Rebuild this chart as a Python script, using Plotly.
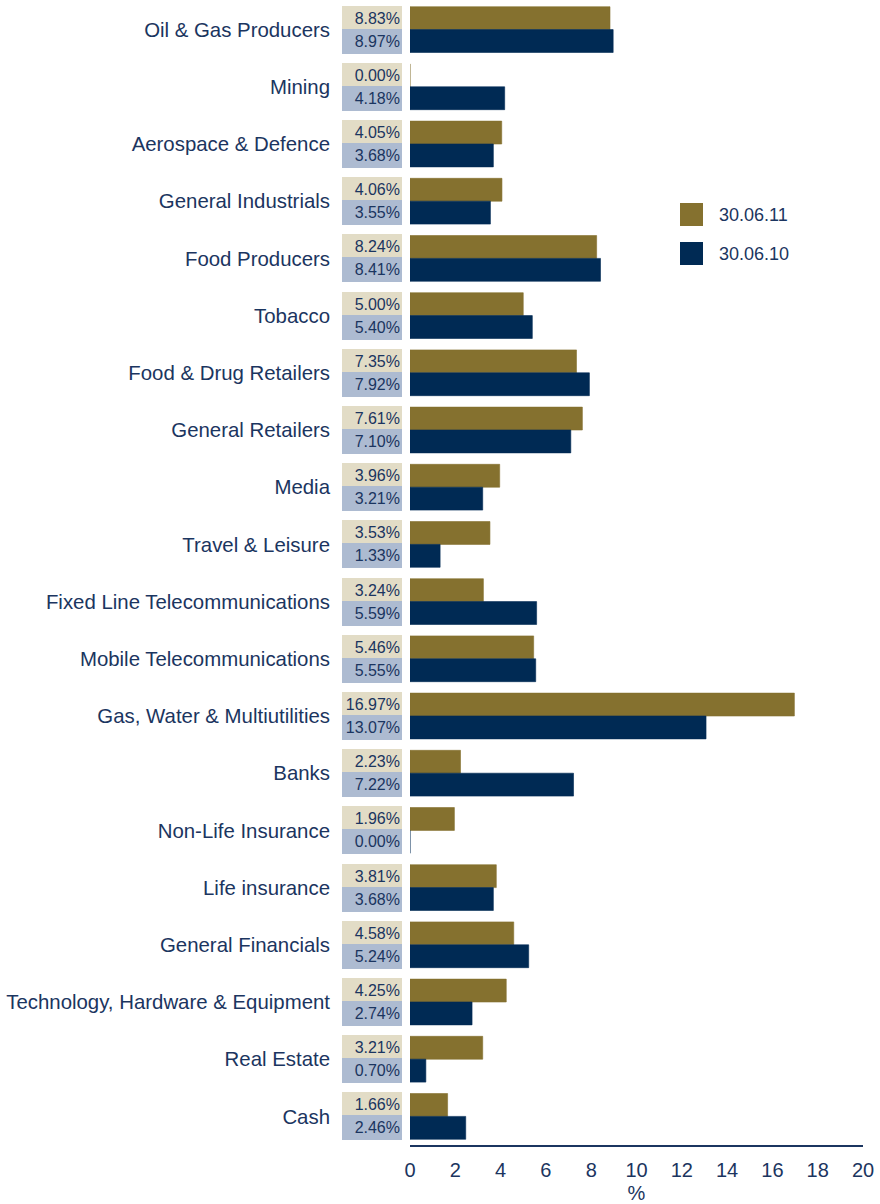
import plotly.graph_objects as go

categories = [
    "Oil & Gas Producers", "Mining", "Aerospace & Defence", "General Industrials",
    "Food Producers", "Tobacco", "Food & Drug Retailers", "General Retailers",
    "Media", "Travel & Leisure", "Fixed Line Telecommunications",
    "Mobile Telecommunications", "Gas, Water & Multiutilities", "Banks",
    "Non-Life Insurance", "Life insurance", "General Financials",
    "Technology, Hardware & Equipment", "Real Estate", "Cash",
]
values_2011 = [8.83, 0.00, 4.05, 4.06, 8.24, 5.00, 7.35, 7.61, 3.96, 3.53,
               3.24, 5.46, 16.97, 2.23, 1.96, 3.81, 4.58, 4.25, 3.21, 1.66]
values_2010 = [8.97, 4.18, 3.68, 3.55, 8.41, 5.40, 7.92, 7.10, 3.21, 1.33,
               5.59, 5.55, 13.07, 7.22, 0.00, 3.68, 5.24, 2.74, 0.70, 2.46]
series_names = ["30.06.11", "30.06.10"]
x_ticks = [0, 2, 4, 6, 8, 10, 12, 14, 16, 18, 20]

C_2011 = "#85712f"
C_2010 = "#002a54"
BOX_2011 = "#e2dcc6"
BOX_2010 = "#adbbd1"
TXT = "#1b3560"
FONT = "Liberation Sans, Arial, sans-serif"

W, H = 880, 1204
L, R, T, B = 410, 17, 1, 59
plot_w = W - L - R
plot_h = H - T - B
n = len(categories)
step = plot_h / n
bargap = 0.2
bar_h = step * (1 - bargap) / 2


def px_x(px):
    return (px - L) / plot_w


def px_y(py):
    return 1 - (py - T) / plot_h


fig = go.Figure()
for name, vals, col in [(series_names[0], values_2011, C_2011),
                        (series_names[1], values_2010, C_2010)]:
    fig.add_trace(go.Bar(
        y=categories, x=vals, name=name, orientation="h",
        marker=dict(color=col, line=dict(color=col, width=0.6)),
        hoverinfo="x+y", showlegend=False,
    ))

annotations = []
shapes = []
box_w = 62
for vals, bg, shift in [(values_2011, BOX_2011, bar_h / 2), (values_2010, BOX_2010, -bar_h / 2)]:
    for cat, v in zip(categories, vals):
        annotations.append(dict(
            x=px_x(402), xref="paper", y=cat, yref="y", yshift=shift,
            xanchor="right", yanchor="middle",
            text=f"{v:.2f}%", showarrow=False, align="right",
            width=box_w - 6, height=bar_h - 2, bgcolor=bg, borderpad=0,
            borderwidth=2, bordercolor=bg,
            font=dict(family=FONT, size=16, color=TXT),
        ))

# legend (drawn as swatches + text)
for i, (name, col) in enumerate([(series_names[0], C_2011), (series_names[1], C_2010)]):
    top = 203 + i * 39
    shapes.append(dict(
        type="rect", xref="paper", yref="paper",
        x0=px_x(680), x1=px_x(703), y0=px_y(top + 23), y1=px_y(top),
        fillcolor=col, line=dict(width=0),
    ))
    annotations.append(dict(
        x=px_x(717), xref="paper", y=px_y(top + 11.5), yref="paper",
        xanchor="left", yanchor="middle", text=name, showarrow=False,
        font=dict(family=FONT, size=18, color=TXT),
    ))

fig.update_layout(
    width=W, height=H,
    margin=dict(l=L, r=R, t=T, b=B, pad=0),
    paper_bgcolor="white", plot_bgcolor="white",
    barmode="group", bargap=bargap, bargroupgap=0,
    font=dict(family=FONT, color=TXT),
    annotations=annotations, shapes=shapes,
    showlegend=False,
    xaxis=dict(
        range=[0, 20], tickvals=x_ticks,
        showgrid=False, zeroline=False,
        showline=True, linecolor=TXT, linewidth=1.5,
        ticks="", tickfont=dict(family=FONT, size=20, color=TXT),
        ticklabelstandoff=6,
        title=dict(text="%", font=dict(family=FONT, size=20, color=TXT), standoff=8),
    ),
    yaxis=dict(
        categoryorder="array", categoryarray=categories,
        range=[n - 0.5, -0.5],
        showgrid=False, zeroline=False, showline=False, ticks="",
        tickfont=dict(family=FONT, size=20.4, color=TXT),
        ticklabelstandoff=79,
    ),
)

fig.write_html("out.html", config={"displayModeBar": False},
               post_script="document.body.style.margin='0';")
